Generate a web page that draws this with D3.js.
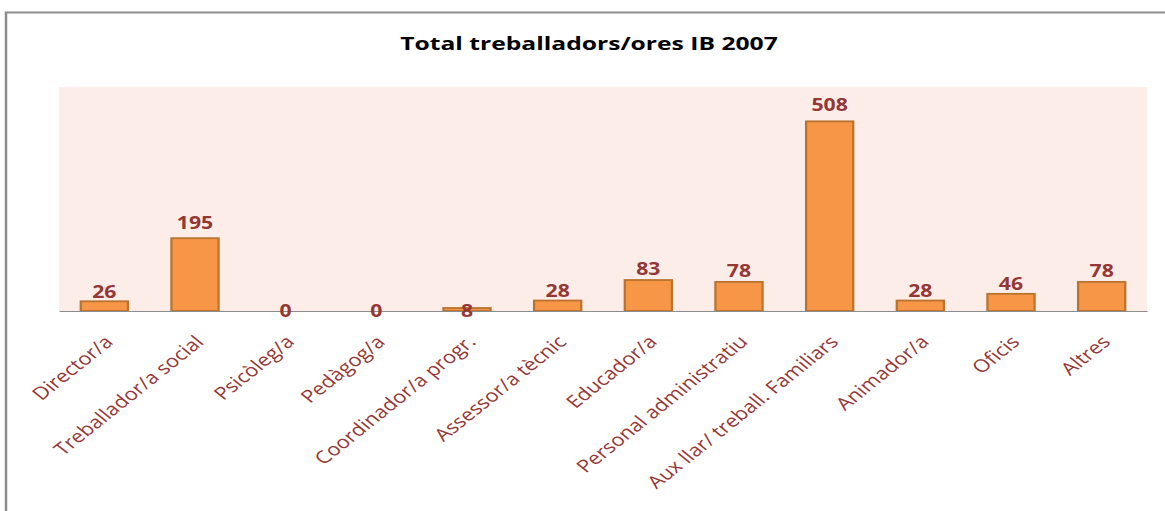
<!DOCTYPE html>
<html>
<head>
<meta charset="utf-8">
<script src="https://cdn.jsdelivr.net/npm/d3@7/dist/d3.min.js"></script>
<style>
  body { margin: 0; background: #fff; }
  svg { display: block; }
</style>
</head>
<body>
<div id="chart"></div>
<script>
// data
const categories = [
    "Director/a", "Treballador/a social", "Psicòleg/a", "Pedàgog/a",
    "Coordinador/a progr.", "Assessor/a tècnic", "Educador/a",
    "Personal administratiu", "Aux llar/ treball. Familiars",
    "Animador/a", "Oficis", "Altres"
];
const values = [26, 195, 0, 0, 8, 28, 83, 78, 508, 28, 46, 78];
const yDomain = [0, 600];
const title = "Total treballadors/ores IB 2007";

const W = 1165, H = 511;
const sx = 1.25; // the picture is stretched sideways, so draw in narrower units
const innerW = W / sx;

const plot = { left: 47.2, right: 917.6, top: 87, bottom: 311 };

const svg = d3.select("#chart").append("svg")
    .attr("width", W)
    .attr("height", H);

const g = svg.append("g").attr("transform", "scale(" + sx + ",1)");

// frame
g.append("path")
    .attr("d", "M4.8," + H + "V12.5H" + innerW)
    .attr("fill", "none")
    .attr("stroke", "#8c8c8c")
    .attr("stroke-width", 2);

const x = d3.scaleBand()
    .domain(categories)
    .range([plot.left, plot.right])
    .paddingInner(0.48)
    .paddingOuter(0.24);

const y = d3.scaleLinear()
    .domain(yDomain)
    .range([plot.bottom, plot.top]);

// plot area
g.append("rect")
    .attr("x", plot.left)
    .attr("y", plot.top)
    .attr("width", plot.right - plot.left)
    .attr("height", plot.bottom - plot.top)
    .attr("fill", "#fcede8");

g.append("text")
    .text(title)
    .attr("x", 471.2)
    .attr("y", 50)
    .attr("text-anchor", "middle")
    .attr("textLength", 302)
    .attr("lengthAdjust", "spacingAndGlyphs")
    .style("font-family", "'Open Sans', sans-serif")
    .style("font-weight", "bold")
    .style("font-size", "18.5px")
    .attr("fill", "#000");

const data = categories.map((c, i) => ({ cat: c, value: values[i] }));

g.selectAll("rect.bar")
    .data(data.filter(d => d.value > 0))
    .enter().append("rect")
    .attr("class", "bar")
    .attr("x", d => x(d.cat))
    .attr("y", d => y(d.value))
    .attr("width", x.bandwidth())
    .attr("height", d => y(0) - y(d.value))
    .attr("fill", "#f79646")
    .attr("stroke", "#b9722f")
    .attr("stroke-width", 1.8);

// x axis line
const axis = g.append("g")
    .attr("transform", "translate(0," + plot.bottom + ")")
    .call(d3.axisBottom(x).tickSize(0).tickPadding(0));
axis.select(".domain").attr("stroke", "#8c8c8c").attr("stroke-width", 1.2);
axis.selectAll(".tick text")
    .attr("text-anchor", "end")
    .attr("x", 0)
    .attr("y", 0)
    .attr("dy", 0)
    .attr("transform", "translate(8,32) rotate(-45)")
    .style("font-family", "'Open Sans', sans-serif")
    .style("font-size", "17.5px")
    .attr("fill", "#953735");

// value labels, the gap above a bar grows a little with its height
g.selectAll("text.val")
    .data(data)
    .enter().append("text")
    .attr("class", "val")
    .text(d => d.value)
    .attr("x", d => x(d.cat) + x.bandwidth() / 2)
    .attr("y", d => {
        if (d.value < 10) return y(0) + 6.5;
        const h = y(0) - y(d.value);
        return y(d.value) - Math.min(10, 2 + h * 0.1);
    })
    .attr("text-anchor", "middle")
    .style("font-family", "'Open Sans', sans-serif")
    .style("font-weight", "bold")
    .style("font-size", "17px")
    .attr("fill", "#953735");
</script>
</body>
</html>
